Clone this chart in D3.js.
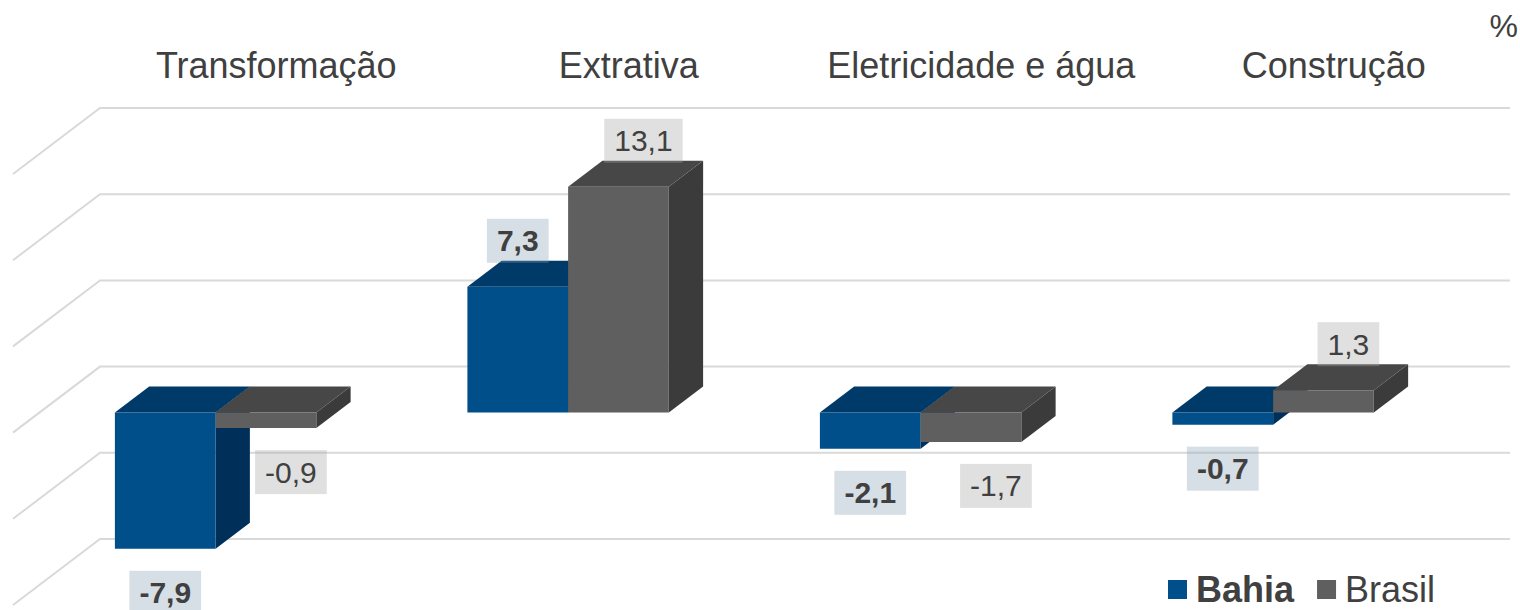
<!DOCTYPE html>
<html>
<head>
<meta charset="utf-8">
<script src="https://cdnjs.cloudflare.com/ajax/libs/d3/7.8.5/d3.min.js"></script>
<style>
body { margin: 0; background: #fff; }
text { font-family: "Liberation Sans", Arial, sans-serif; fill: #404040; }
</style>
</head>
<body>
<div id="chart"></div>
<script>
var categories = ["Transformação", "Extrativa", "Eletricidade e água", "Construção"];
var series = ["Bahia", "Brasil"];
var bahia = [-7.9, 7.3, -2.1, -0.7];
var brasil = [-0.9, 13.1, -1.7, 1.3];
var yTicks = [-10, -5, 0, 5, 10, 15];
var unit = "%";

var width = 1520, height = 610;
var depthX = 87, depthY = 66;      // profundidade do piso (parede -> frente)
var barT0 = 0.303, barT1 = 0.697;  // profundidade das barras (0 = parede)
var colors = {
    Bahia: {front: "#004f8b", top: "#003a69", side: "#00305a", label: "#8aa1b8", labelT: 0.697, weight: "bold"},
    Brasil: {front: "#5f5f5f", top: "#474747", side: "#3b3b3b", label: "#a6a6a6", labelT: 0.41, weight: "normal"}
};

var svg = d3.select("#chart")
    .append("svg")
    .attr("width", width).attr("height", height);

var x = d3.scaleBand().domain(categories).range([100, 1510])
    .paddingInner(1.5 / 3.5).paddingOuter(0.75 / 3.5);
var xs = d3.scaleBand().domain(series).range([0, x.bandwidth()]);
var y = d3.scaleLinear().domain([yTicks[0], yTicks[yTicks.length - 1]]).range([539, 108]);

function p(xb, v, t) { //projeção oblíqua
    return [xb - t * depthX, y(v) + t * depthY];
}
function pts(a) {
    return a.map(function (d) { return d.join(","); }).join(" ");
}

// linhas de grade (parede do fundo + lateral)
svg.selectAll("polyline.grid")
    .data(yTicks)
    .enter()
    .append("polyline")
    .attr("class", "grid")
    .attr("points", function (v) {
        return pts([p(x.range()[1], v, 0), p(x.range()[0], v, 0), p(x.range()[0], v, 1)]);
    })
    .attr("fill", "none")
    .attr("stroke", "#d9d9d9")
    .attr("stroke-width", 2);

// dados das barras
var bars = [];
categories.forEach(function (c, i) {
    bars.push({cat: c, ser: "Bahia", value: bahia[i]});
    bars.push({cat: c, ser: "Brasil", value: brasil[i]});
});

var w = xs.bandwidth();
var g = svg.selectAll("g.bar")
    .data(bars)
    .enter()
    .append("g")
    .attr("class", "bar");

g.append("polygon") //lado
    .attr("points", function (d) {
        var xb = x(d.cat) + xs(d.ser), lo = Math.min(0, d.value), hi = Math.max(0, d.value);
        return pts([p(xb + w, hi, barT1), p(xb + w, hi, barT0), p(xb + w, lo, barT0), p(xb + w, lo, barT1)]);
    })
    .attr("fill", function (d) { return colors[d.ser].side; });
g.append("polygon") //topo
    .attr("points", function (d) {
        var xb = x(d.cat) + xs(d.ser), hi = Math.max(0, d.value);
        return pts([p(xb, hi, barT1), p(xb + w, hi, barT1), p(xb + w, hi, barT0), p(xb, hi, barT0)]);
    })
    .attr("fill", function (d) { return colors[d.ser].top; });
g.append("polygon") //frente
    .attr("points", function (d) {
        var xb = x(d.cat) + xs(d.ser), lo = Math.min(0, d.value), hi = Math.max(0, d.value);
        return pts([p(xb, hi, barT1), p(xb + w, hi, barT1), p(xb + w, lo, barT1), p(xb, lo, barT1)]);
    })
    .attr("fill", function (d) { return colors[d.ser].front; });

// rótulos de dados
var fmt = function (v) { return String(v.toFixed(1)).replace(".", ","); };
var lab = svg.selectAll("g.label")
    .data(bars)
    .enter()
    .append("g")
    .attr("class", "label")
    .attr("transform", function (d) {
        var xb = x(d.cat) + xs(d.ser);
        var cx = p(xb + w / 2, d.value, colors[d.ser].labelT)[0];
        var yf = p(xb, d.value, barT1)[1];
        var cy = d.value < 0 ? yf + 44 : yf - 46;
        return "translate(" + cx + "," + cy + ")";
    });
var labRect = lab.append("rect")
    .attr("fill", function (d) { return colors[d.ser].label; })
    .attr("fill-opacity", 0.35);
var labText = lab.append("text")
    .attr("text-anchor", "middle")
    .attr("y", 10.5)
    .style("font-size", "30px")
    .style("font-weight", function (d) { return colors[d.ser].weight; })
    .text(function (d) { return fmt(d.value); });
labText.each(function (d) {
    var tw = this.getComputedTextLength() + 20;
    d3.select(this.parentNode).select("rect")
        .attr("x", -tw / 2).attr("y", -22)
        .attr("width", tw).attr("height", 44);
});

// títulos das categorias
svg.selectAll("text.cat")
    .data(categories)
    .enter()
    .append("text")
    .attr("class", "cat")
    .attr("x", function (d) { return x(d) - x.step() * x.paddingOuter() + x.step() / 2; })
    .attr("y", 78)
    .attr("text-anchor", "middle")
    .style("font-size", "36px")
    .text(function (d) { return d; });

svg.append("text")
    .attr("x", 1518).attr("y", 37)
    .attr("text-anchor", "end")
    .style("font-size", "32px")
    .text(unit);

// legenda
var lx = 1168;
series.forEach(function (s) {
    svg.append("rect")
        .attr("x", lx).attr("y", 580)
        .attr("width", 19).attr("height", 19)
        .attr("fill", colors[s].front);
    var t = svg.append("text")
        .attr("x", lx + 28).attr("y", 602)
        .style("font-size", "36px")
        .style("font-weight", colors[s].weight)
        .text(s);
    lx = lx + 28 + t.node().getComputedTextLength() + 23;
});
</script>
</body>
</html>
